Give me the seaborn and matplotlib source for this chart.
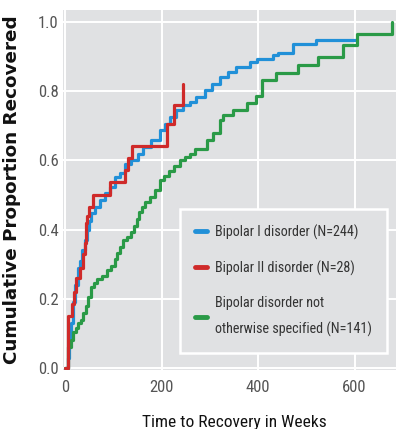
import matplotlib
matplotlib.use("Agg")
import matplotlib.pyplot as plt
import seaborn as sns
import pandas as pd
from matplotlib.lines import Line2D

# ---- data ----
bp1_weeks = [0, 5, 8, 12, 15, 20, 26, 30, 35, 40, 44, 49, 54, 62, 72, 82, 92, 103, 113, 124,
             137, 150, 161, 178, 196, 207, 217, 230, 244, 258, 272, 290, 305, 321, 338, 355,
             383, 397, 431, 441, 472, 521, 604]
bp1_prop = [0.0, 0.03, 0.08, 0.13, 0.19, 0.24, 0.29, 0.31, 0.34, 0.37, 0.40, 0.425, 0.447, 0.465,
            0.485, 0.505, 0.523, 0.552, 0.565, 0.59, 0.60, 0.62, 0.639, 0.66, 0.687, 0.705, 0.725,
            0.745, 0.759, 0.769, 0.783, 0.803, 0.82, 0.841, 0.855, 0.87, 0.884, 0.894, 0.904, 0.91,
            0.937, 0.947, 0.947]

bp2_weeks = [0, 6, 13, 17, 23, 30, 36, 40, 42, 45, 48, 57, 92, 123, 130, 139, 210, 225, 245]
bp2_prop = [0.0, 0.15, 0.185, 0.22, 0.26, 0.29, 0.33, 0.36, 0.42, 0.44, 0.465, 0.50, 0.537,
            0.571, 0.607, 0.643, 0.706, 0.759, 0.822]

nos_weeks = [0, 6, 11, 16, 22, 27, 32, 37, 42, 47, 54, 60, 65, 75, 86, 95, 103, 108, 114, 120,
             128, 137, 143, 148, 153, 158, 166, 175, 186, 196, 205, 215, 226, 238, 248, 258, 268,
             293, 307, 321, 328, 348, 376, 395, 407, 438, 483, 525, 577, 605, 677]
nos_prop = [0.0, 0.06, 0.08, 0.104, 0.115, 0.129, 0.14, 0.158, 0.18, 0.205, 0.234, 0.245, 0.258,
            0.265, 0.282, 0.295, 0.315, 0.331, 0.35, 0.369, 0.38, 0.393, 0.41, 0.432, 0.45, 0.465,
            0.48, 0.494, 0.514, 0.542, 0.555, 0.57, 0.585, 0.60, 0.61, 0.62, 0.634, 0.658, 0.68,
            0.716, 0.73, 0.745, 0.766, 0.786, 0.834, 0.853, 0.875, 0.899, 0.934, 0.966, 1.0]

labels = ["Bipolar I disorder (N=244)",
          "Bipolar II disorder (N=28)",
          "Bipolar disorder not\notherwise specified (N=141)"]
colors = ["#2190d8", "#cf2a2a", "#2a9a47"]
x_ticks = [0, 200, 400, 600]
y_ticks = [0.0, 0.2, 0.4, 0.6, 0.8, 1.0]

# ---- style ----
bg = "#e0e1e3"
sns.set_style("darkgrid", {"axes.facecolor": bg, "grid.color": "white"})
narrow = ["DejaVu Sans Condensed", "Liberation Sans Narrow", "Roboto Condensed",
          "Open Sans Condensed", "Lato", "DejaVu Sans"]

fig = plt.figure(figsize=(3.96, 4.29), dpi=100)
ax = fig.add_axes([63 / 396, 1 - 370 / 429, 333 / 396, 360 / 429])

series = [(bp1_weeks, bp1_prop, 0), (nos_weeks, nos_prop, 2), (bp2_weeks, bp2_prop, 1)]
for w, p, i in series:
    df = pd.DataFrame({"weeks": w, "prop": p})
    sns.lineplot(data=df, x="weeks", y="prop", ax=ax, estimator=None, sort=False,
                 color=colors[i], linewidth=2.3, drawstyle="steps-post")

ax.set_xlim(-5, 686)
ax.set_ylim(-0.006, 1.035)
ax.set_xticks(x_ticks)
ax.set_yticks(y_ticks)
ax.set_xticklabels([str(v) for v in x_ticks], family=narrow, fontsize=12, color="#555555")
ax.set_yticklabels([f"{v:.1f}" for v in y_ticks], family=narrow, fontsize=12, color="#555555")
ax.tick_params(axis="x", length=0, pad=7)
ax.tick_params(axis="y", length=0, pad=3)
ax.grid(color="white", linewidth=1.4)
for s in ax.spines.values():
    s.set_visible(False)

ax.set_xlabel("Time to Recovery in Weeks", family=narrow, fontsize=12.5, color="#111111")
ax.set_ylabel("Cumulative Proportion Recovered", family="DejaVu Sans", fontweight="bold",
              fontsize=13.2, color="#111111")
ax.yaxis.set_label_coords(-0.125, 0.5)
ax.xaxis.set_label_coords(0.515, -0.124)

handles = [Line2D([0], [0], color=c, linewidth=3.5) for c in colors]
leg = ax.legend(handles, labels, loc="lower right", bbox_to_anchor=(0.973, 0.047),
                borderaxespad=0, frameon=True, fancybox=False, framealpha=1,
                facecolor=bg, edgecolor="white", handlelength=0.8, handletextpad=0.55,
                labelspacing=1.45, borderpad=1.1,
                prop={"family": narrow, "size": 10.2})
leg.get_frame().set_linewidth(1.8)
for t in leg.get_texts():
    t.set_color("#333333")
    t.set_linespacing(2.0)

fig.savefig("out.png", dpi=100, facecolor="white")
